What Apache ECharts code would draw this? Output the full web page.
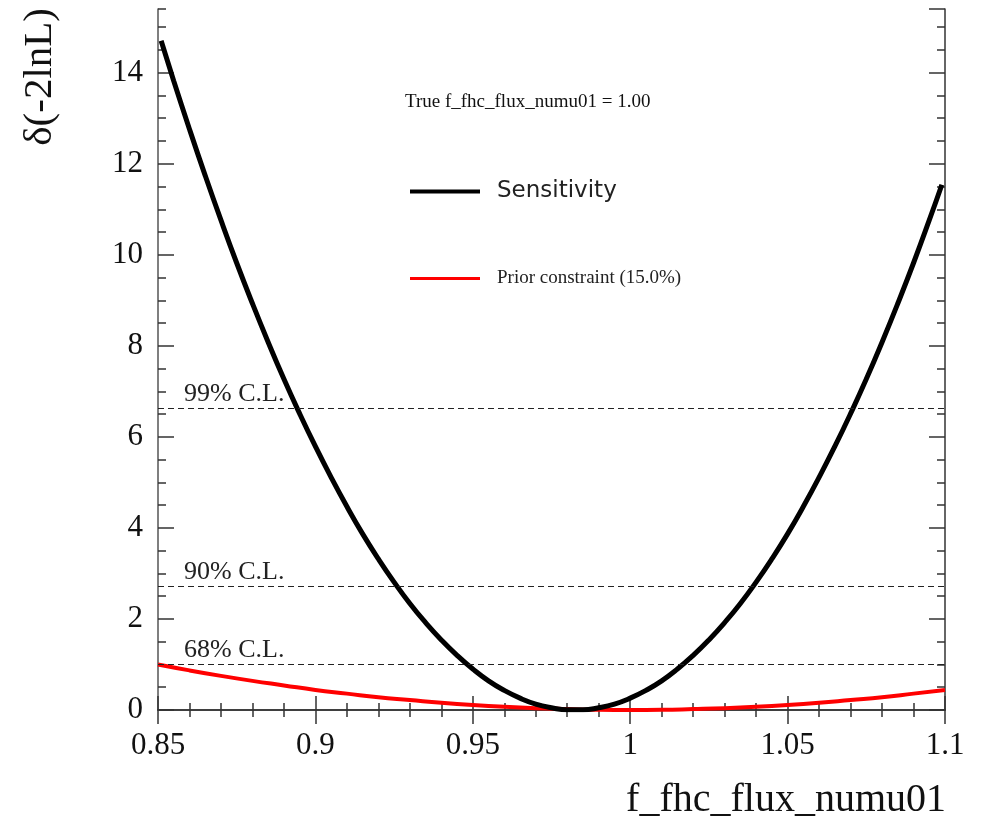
<!DOCTYPE html>
<html>
<head>
<meta charset="utf-8">
<script src="https://cdn.jsdelivr.net/npm/echarts@6/dist/echarts.min.js"></script>
<style>html,body{margin:0;padding:0;background:#fff}#c{width:987px;height:823px}</style>
</head>
<body>
<div id="c"></div>
<script>
// Sensitivity curve, delta(-2lnL) vs f_fhc_flux_numu01
const sensX = [0.851,0.855,0.860,0.865,0.870,0.875,0.880,0.885,0.890,0.895,0.900,0.905,0.910,0.915,0.920,0.925,0.930,0.935,0.940,0.945,0.950,0.955,0.960,0.965,0.970,0.975,0.980,0.985,0.990,0.995,1.000,1.005,1.010,1.015,1.020,1.025,1.030,1.035,1.040,1.045,1.050,1.055,1.060,1.065,1.070,1.075,1.080,1.085,1.090,1.095,1.099];
const sensY = [14.70,13.82,12.76,11.74,10.76,9.82,8.93,8.08,7.27,6.51,5.79,5.11,4.47,3.87,3.32,2.81,2.34,1.92,1.54,1.20,0.90,0.64,0.43,0.26,0.13,0.05,0.005,0.005,0.05,0.13,0.26,0.43,0.64,0.90,1.20,1.54,1.92,2.34,2.81,3.32,3.87,4.47,5.11,5.79,6.51,7.27,8.08,8.93,9.82,10.76,11.54];
// Prior constraint curve
const priorX = [0.85,0.86,0.87,0.88,0.89,0.90,0.91,0.92,0.93,0.94,0.95,0.96,0.97,0.98,0.99,1.00,1.01,1.02,1.03,1.04,1.05,1.06,1.07,1.08,1.09,1.10];
const priorY = [1.00,0.87,0.75,0.64,0.54,0.44,0.36,0.28,0.22,0.16,0.11,0.07,0.04,0.02,0.004,0.0,0.004,0.02,0.04,0.07,0.11,0.16,0.22,0.28,0.36,0.44];
// Confidence level lines
const clValues = [6.63, 2.71, 1.0];
const clLabels = ['99% C.L.', '90% C.L.', '68% C.L.'];
const xTitle = 'f_fhc_flux_numu01';
const yTitle = 'δ(-2lnL)';
const noteText = 'True f_fhc_flux_numu01 = 1.00';
const seriesNames = ['Sensitivity', 'Prior constraint (15.0%)'];

const serif = 'Liberation Serif';
const axisCol = '#333';
const zip = (a, b) => a.map((v, i) => [v, b[i]]);

const chart = echarts.init(document.getElementById('c'), null, {renderer: 'canvas'});
const baseX = {
  type: 'value', min: 0.85, max: 1.1, interval: 0.05, gridIndex: 0,
  axisLine: {show: true, lineStyle: {color: axisCol, width: 1.5}},
  axisTick: {show: true, inside: true, length: 14, lineStyle: {color: axisCol, width: 1.5}},
  minorTick: {show: true, splitNumber: 5, length: 7, lineStyle: {color: axisCol, width: 1.5}},
  splitLine: {show: false}, minorSplitLine: {show: false}
};
const baseY = {
  type: 'value', min: 0, max: 15.4, gridIndex: 0,
  splitLine: {show: false}
};
chart.setOption({
  animation: false,
  backgroundColor: '#fff',
  grid: {left: 158, right: 42, top: 9, bottom: 113, containLabel: false},
  title: {
    text: noteText, left: 400, top: 88,
    textStyle: {fontFamily: serif, fontSize: 19, fontWeight: 'normal', color: '#111'}
  },
  legend: [
    {
      data: [{name: seriesNames[0], icon: 'rect'}],
      left: 405, top: 175, itemWidth: 70, itemHeight: 4, itemGap: 0,
      textStyle: {fontFamily: 'DejaVu Sans', fontSize: 23, color: '#222', padding: [0, 0, 0, 12]},
      selectedMode: false
    },
    {
      data: [{name: seriesNames[1], icon: 'rect'}],
      left: 405, top: 264, itemWidth: 70, itemHeight: 3, itemGap: 0,
      textStyle: {fontFamily: serif, fontSize: 19, color: '#222', padding: [0, 0, 0, 12]},
      selectedMode: false
    }
  ],
  xAxis: [
    Object.assign({}, baseX, {
      position: 'bottom',
      axisLabel: {show: true, fontFamily: serif, fontSize: 31, color: '#111', margin: 20}
    }),
    Object.assign({}, baseX, {position: 'top', axisLabel: {show: false}})
  ],
  yAxis: [
    Object.assign({}, baseY, {
      position: 'left', interval: 2,
      axisLine: {show: true, lineStyle: {color: '#555', width: 1.5}},
      axisTick: {show: true, inside: true, length: 16, lineStyle: {color: axisCol, width: 1.5}},
      axisLabel: {show: true, showMaxLabel: false, fontFamily: serif, fontSize: 31, color: '#111', margin: 15}
    }),
    Object.assign({}, baseY, {
      position: 'left', interval: 0.5,
      axisLine: {show: false},
      axisTick: {show: true, inside: true, length: 8, lineStyle: {color: axisCol, width: 1.5}},
      axisLabel: {show: false}
    }),
    Object.assign({}, baseY, {
      position: 'right', interval: 2,
      axisLine: {show: true, lineStyle: {color: axisCol, width: 1.5}},
      axisTick: {show: true, inside: true, length: 16, lineStyle: {color: axisCol, width: 1.5}},
      axisLabel: {show: false}
    }),
    Object.assign({}, baseY, {
      position: 'right', interval: 0.5,
      axisLine: {show: false},
      axisTick: {show: true, inside: true, length: 8, lineStyle: {color: axisCol, width: 1.5}},
      axisLabel: {show: false}
    })
  ],
  series: [
    {
      name: seriesNames[1], type: 'line', xAxisIndex: 0, yAxisIndex: 0,
      data: zip(priorX, priorY), showSymbol: false, smooth: true,
      color: '#ff0000', lineStyle: {color: '#ff0000', width: 4}, z: 3
    },
    {
      name: seriesNames[0], type: 'line', xAxisIndex: 0, yAxisIndex: 0,
      data: zip(sensX, sensY), showSymbol: false, smooth: true,
      color: '#000', lineStyle: {color: '#000', width: 5}, z: 4
    },
    {
      name: 'cl', type: 'line', xAxisIndex: 0, yAxisIndex: 0, data: [],
      z: 2,
      markLine: {
        silent: true, symbol: 'none',
        lineStyle: {color: '#222', type: [6, 4], width: 1.2},
        label: {
          show: true, position: 'insideStartTop', distance: [26, 1],
          fontFamily: serif, fontSize: 26, color: '#222',
          formatter: p => p.name
        },
        data: clValues.map((v, i) => ({name: clLabels[i], yAxis: v}))
      }
    }
  ],
  graphic: [
    {
      type: 'text', x: 40, y: 8, rotation: Math.PI / 2,
      style: {text: yTitle, font: '41px "Liberation Serif"', fill: '#111', align: 'right', verticalAlign: 'middle'}
    },
    {
      type: 'text', x: 946, y: 800,
      style: {text: xTitle, font: '40px "Liberation Serif"', fill: '#111', align: 'right', verticalAlign: 'middle'}
    }
  ]
});
</script>
</body>
</html>
